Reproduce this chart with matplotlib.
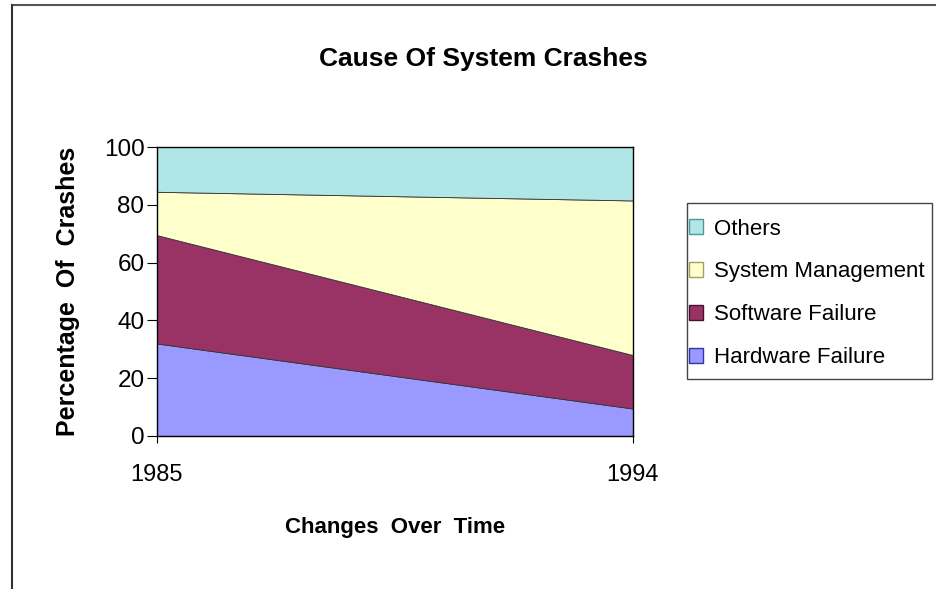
import matplotlib
matplotlib.use("Agg")
import matplotlib.pyplot as plt
from matplotlib.patches import Patch, Rectangle
from matplotlib.lines import Line2D

# Data: share of system crashes by cause (percent), 1985 vs 1994
years = [1985, 1994]
hardware_failure = [32.0, 9.5]
software_failure = [37.5, 18.5]
system_management = [15.0, 53.5]
others = [15.5, 18.5]

series_names = ["Hardware Failure", "Software Failure", "System Management", "Others"]
colors = ["#9999FF", "#993366", "#FFFFCC", "#B0E6E6"]
edge_colors = ["#3333AA", "#4A1030", "#A0A060", "#4A9A9A"]

plt.rcParams["font.family"] = ["Liberation Sans", "DejaVu Sans"]

W, H = 936, 589
fig = plt.figure(figsize=(W / 100, H / 100), dpi=100)
fig.patch.set_facecolor("white")

def fx(px):
    return px / W

def fy(py):
    return 1 - py / H

ax = fig.add_axes([fx(157), fy(436), fx(633) - fx(157), fy(147) - fy(436)])
ax.stackplot(years, hardware_failure, software_failure, system_management, others,
             colors=colors, edgecolor="#333333", linewidth=0.6)

ax.set_xlim(years[0], years[-1])
ax.set_ylim(0, 100)
ax.set_xticks(years)
ax.set_xticklabels([str(y) for y in years])
ax.set_yticks([0, 20, 40, 60, 80, 100])
for s in ax.spines.values():
    s.set_color("black")
    s.set_linewidth(1.0)
ax.tick_params(axis="y", direction="out", length=7, width=0.8, pad=2, labelsize=17.5)
ax.tick_params(axis="x", direction="out", length=5, width=0.8, pad=15, labelsize=17)

fig.text(fx(483), fy(59), "Cause Of System Crashes", ha="center", va="center",
         fontsize=19, fontweight="bold")
fig.text(fx(395), fy(527), "Changes  Over  Time", ha="center", va="center",
         fontsize=16, fontweight="bold")
fig.text(fx(68), fy(291), "Percentage  Of  Crashes", ha="center", va="center",
         rotation=90, fontsize=18, fontweight="bold")

# Legend (top entry first) with a plain rectangular frame
handles = [Patch(facecolor=c, edgecolor=e, linewidth=1.0)
           for c, e in zip(colors, edge_colors)][::-1]
labels = series_names[::-1]
fig.patches.append(Rectangle((fx(687), fy(379)), fx(932) - fx(687), fy(203) - fy(379),
                             transform=fig.transFigure, facecolor="white",
                             edgecolor="#444444", linewidth=1.0, zorder=1))
leg = fig.legend(handles, labels, loc="upper left",
                 bbox_to_anchor=(fx(673), fy(203)), frameon=False,
                 fontsize=16, handlelength=0.65, handleheight=0.65,
                 handletextpad=0.48, labelspacing=0.98, borderpad=0.2)

# Outer chart-area frame (top and left edges)
fig.add_artist(Line2D([fx(11.5), 1.0], [fy(4.5), fy(4.5)], transform=fig.transFigure,
                      color="#555555", linewidth=1.5))
fig.add_artist(Line2D([fx(11.5), fx(11.5)], [fy(4.5), 0.0], transform=fig.transFigure,
                      color="#333333", linewidth=1.5))

fig.savefig("out.png", dpi=100, facecolor="white")
